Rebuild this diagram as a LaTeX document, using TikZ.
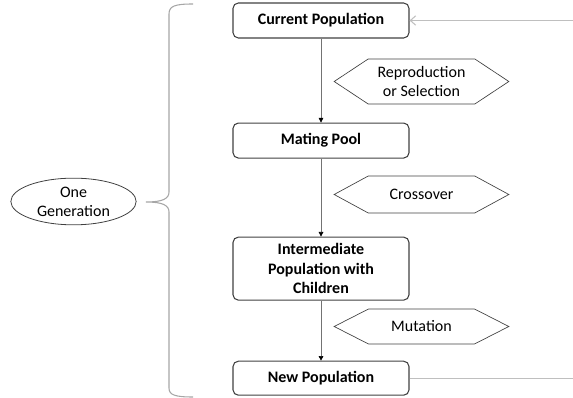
\documentclass[tikz,border=0pt]{standalone}
\usepackage{fontspec}
\setmainfont{Carlito}
\usetikzlibrary{positioning,shapes.geometric,shapes.symbols,arrows.meta}

\begin{document}
\begin{tikzpicture}[x=0.75pt,y=-0.75pt,
    font=\fontsize{12}{14.4}\selectfont,
    stage/.style={draw=black!75, line width=0.8pt, rounded corners=4pt,
      minimum width=132pt, inner sep=1pt, align=center,
      font=\fontsize{12}{14.4}\selectfont\bfseries},
    oper/.style={draw=black!75, line width=0.5pt, shape=signal,
      signal to=west and east, minimum width=131pt, inner sep=1pt, align=center},
    flow/.style={draw=black!55, line width=0.5pt,
      -{Triangle[length=3.5pt,width=3.5pt,color=black]}},
    back/.style={draw=black!25, line width=0.8pt}]
  \useasboundingbox (0,0) rectangle (573,398);
  % the four populations
  \node[stage, minimum height=26.25pt] (cur) at (321,20.5) {Current Population};
  \node[stage, minimum height=26.25pt, below=63pt of cur] (mat) {Mating Pool};
  \node[stage, minimum height=47.25pt, below=58.5pt of mat] (int) {Intermediate\\Population with\\Children};
  \node[stage, minimum height=25.5pt, below=45pt of int] (new) {New Population};
  % operators
  \node[oper, minimum height=33.75pt, signal pointer angle=67] (rep) at (421.5,81.5) {Reproduction\\or Selection};
  \node[oper, minimum height=27.75pt, signal pointer angle=57] (cro) at (421.5,194.5) {Crossover};
  \node[oper, minimum height=26.25pt, signal pointer angle=54] (mut) at (421.5,326.5) {Mutation};
  % one generation
  \node[draw=black!75, line width=0.6pt, ellipse, minimum width=94pt, minimum height=35pt,
    inner sep=0pt, align=center] (gen) at (73.5,201.5) {One\\Generation};
  \draw[black!35, line width=0.8pt]
    (193,4) .. controls (175,4) and (169,6) .. (169,14) -- (169,192)
    .. controls (169,199) and (162,202) .. (146,202)
    .. controls (162,202) and (169,205) .. (169,212) -- (169,388)
    .. controls (169,395) and (175,397) .. (193,397);
  \draw[flow] (cur) -- (mat);
  \draw[flow] (mat) -- (int);
  \draw[flow] (int) -- (new);
  % loop back
  \coordinate (rtop) at (573,20.5);
  \coordinate (rbot) at (573,380);
  \draw[back] (new.east) -- (new.east -| rbot);
  \draw[back, -{Straight Barb[length=4pt,width=7pt]}] (cur.east -| rtop) -- (cur.east);
\end{tikzpicture}
\end{document}
